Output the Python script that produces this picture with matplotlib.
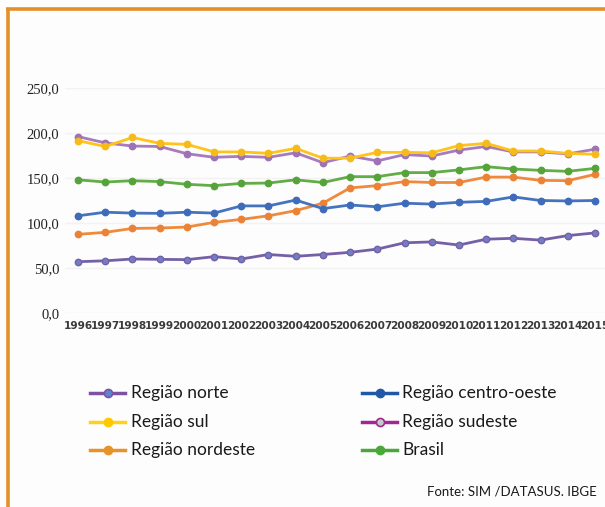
import matplotlib
matplotlib.use("Agg")
import matplotlib.pyplot as plt
from matplotlib.lines import Line2D

years = list(range(1996, 2016))

norte = [57, 58, 60, 59.6, 59.3, 62.6, 60, 65, 63, 65, 67.4, 71, 78, 79, 75.5, 82, 83, 81, 86, 89]
centro_oeste = [108, 112, 111, 110.7, 112, 111, 119, 119, 125.5, 116, 120, 118, 122, 121, 123, 124, 129, 125, 124.5, 125]
sul = [191.5, 185, 195, 188.5, 187.4, 179, 179, 177.4, 183, 172, 172, 178.5, 178.5, 178, 186, 188.5, 180, 180, 177.4, 176.3]
sudeste = [196, 189, 185.5, 185, 177, 173, 174, 173, 178, 167, 174.4, 169, 176, 174.4, 181, 185, 179, 179, 176.7, 182]
nordeste = [87.4, 89.6, 94, 94.4, 95.5, 100.7, 104, 108, 113.7, 122, 139, 141.5, 146, 145, 145, 151, 151, 147.4, 147, 154]
brasil = [148, 145.5, 147, 146, 143, 141.5, 144, 144.4, 148, 145, 151.5, 151.5, 156, 156, 159, 162.6, 160, 158.5, 157.4, 160.7]

y_ticks = [0, 50, 100, 150, 200, 250]
y_tick_labels = ["0,0", "50,0", "100,0", "150,0", "200,0", "250,0"]

# (line colour, marker face, marker edge) used in the plot area
plot_styles = {
    "Região norte": ("#7560a8", "#6f7fc4", "#7560a8"),
    "Região centro-oeste": ("#4673c0", "#3f6cb8", "#3f6cb8"),
    "Região sul": ("#ffc41a", "#f5bb1a", "#f5bb1a"),
    "Região sudeste": ("#a77bbd", "#9e72b5", "#9e72b5"),
    "Região nordeste": ("#ef8a3c", "#ec8236", "#ec8236"),
    "Brasil": ("#62ad45", "#55a33a", "#55a33a"),
}
# legend swatches use the printed palette
legend_styles = {
    "Região norte": ("#7d52a0", "#5b86d6", "#7d52a0"),
    "Região centro-oeste": ("#1f58a8", "#1f58a8", "#1f58a8"),
    "Região sul": ("#ffd21a", "#ffc800", "#ffc800"),
    "Região sudeste": ("#a0288f", "#c8c8c8", "#a0288f"),
    "Região nordeste": ("#e5932a", "#e5932a", "#e5932a"),
    "Brasil": ("#4aa83a", "#4aa83a", "#4aa83a"),
}
series = {
    "Região norte": norte,
    "Região centro-oeste": centro_oeste,
    "Região sul": sul,
    "Região sudeste": sudeste,
    "Região nordeste": nordeste,
    "Brasil": brasil,
}

W, H = 605, 507
fig = plt.figure(figsize=(W / 100, H / 100), dpi=100)
fig.patch.set_facecolor("#fdfdfd")

ax = fig.add_axes([65 / W, 1 - 313 / H, (605 - 65) / W, (313 - 88) / H])
ax.set_facecolor("none")

order = ["Região nordeste", "Região norte", "Região centro-oeste", "Brasil",
         "Região sudeste", "Região sul"]
for name in order:
    lc, mf, me = plot_styles[name]
    ax.plot(years, series[name], color=lc, lw=2.0, marker="o", ms=4.6,
            mfc=mf, mec=me, mew=1.0, solid_joinstyle="round")

ax.set_xlim(1995.52, 2015.37)
ax.set_ylim(0, 250)
ax.set_yticks(y_ticks)
ax.set_yticklabels(y_tick_labels, fontsize=10.5, color="#222222",
                   family="Liberation Serif")
ax.set_xticks(years)
ax.set_xticklabels([str(y) for y in years], fontsize=7.6, fontweight="bold",
                   color="#3a3a3a")
ax.tick_params(axis="both", length=0)
ax.tick_params(axis="y", pad=4)
ax.tick_params(axis="x", pad=6)
for s in ax.spines.values():
    s.set_visible(False)
ax.grid(axis="y", color="#f2f2f2", lw=1.0)
ax.set_axisbelow(True)

# legend, two columns
rows = [393, 422, 450]
cols = [(90, 125, 131), (362, 397, 402)]
layout = [("Região norte", 0, 0), ("Região centro-oeste", 1, 0),
          ("Região sul", 0, 1), ("Região sudeste", 1, 1),
          ("Região nordeste", 0, 2), ("Brasil", 1, 2)]
for name, c, r in layout:
    x0, x1, xt = cols[c]
    y = 1 - rows[r] / H
    lc, mf, me = legend_styles[name]
    fig.add_artist(Line2D([x0 / W, x1 / W], [y, y], color=lc, lw=2.5,
                          transform=fig.transFigure))
    fig.add_artist(Line2D([(x0 + x1) / 2 / W], [y], marker="o", ms=5.8,
                          mfc=mf, mec=me, mew=1.2, transform=fig.transFigure))
    fig.text(xt / W, y, name, fontsize=12.5, va="center", ha="left",
             color="#1a1a1a", family="Lato")

fig.text(597 / W, 1 - 492 / H, "Fonte: SIM /DATASUS. IBGE", fontsize=9.5,
         ha="right", va="center", color="#1a1a1a", family="Lato")

# frame on the top and left edges
fig.add_artist(Line2D([7.5 / W, 7.5 / W], [0, 1 - 9 / H], color="#e3902a",
                      lw=2.6, transform=fig.transFigure, solid_capstyle="butt"))
fig.add_artist(Line2D([6.2 / W, 1], [1 - 9 / H, 1 - 9 / H], color="#e3902a",
                      lw=2.6, transform=fig.transFigure, solid_capstyle="butt"))

fig.savefig("out.png", dpi=100, facecolor=fig.get_facecolor())
